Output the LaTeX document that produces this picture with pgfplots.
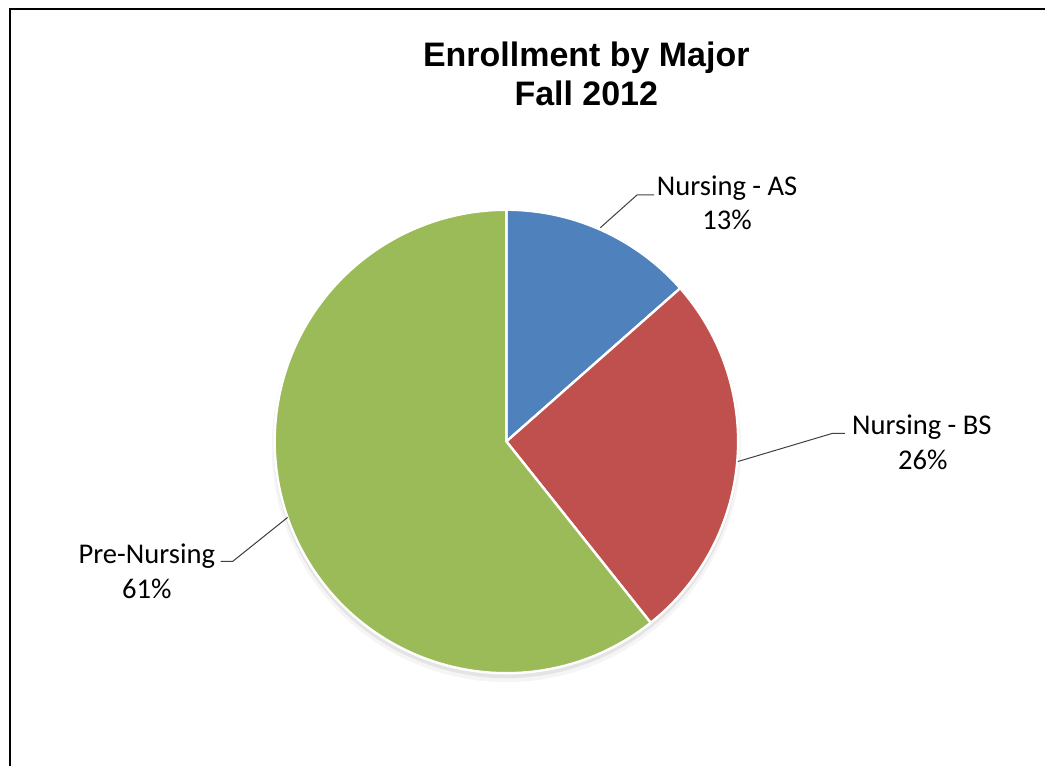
\documentclass[border=0pt]{standalone}
\usepackage{pgfplots}
\pgfplotsset{compat=1.18}
\usepackage{fontspec}
\setmainfont{Carlito}
\newfontfamily\titlefont{Liberation Sans}

\definecolor{asblue}{HTML}{4F81BD}
\definecolor{bsred}{HTML}{C0504D}
\definecolor{pregreen}{HTML}{9BBB59}

% shares in percent, clockwise from 12 o'clock
\def\shareAS{13.5}
\def\shareBS{25.8}
\def\sharePre{60.7}

\pgfmathsetmacro\angA{90-3.6*\shareAS}
\pgfmathsetmacro\angB{\angA-3.6*\shareBS}
\pgfmathsetmacro\angC{\angB-3.6*\sharePre}

\begin{document}
\begin{tikzpicture}
\begin{axis}[
    width=523pt, height=383.5pt, scale only axis,
    hide axis, clip=false,
    xmin=0, xmax=1046, ymin=0, ymax=767,
    y dir=reverse,
    samples=120,
    ]
\path (axis cs:0,0) (axis cs:1046,767);

% soft shadow under the pie
\addplot[draw=none, fill=black, fill opacity=0.04, domain=0:360] ({507+235*cos(x)},{448-235*sin(x)}) -- cycle;
\addplot[draw=none, fill=black, fill opacity=0.07, domain=0:360] ({507+233*cos(x)},{446-233*sin(x)}) -- cycle;

% slices
\addplot[fill=asblue, draw=white, line width=1.2pt, line join=round, domain=\angA:90]
    ({507+232*cos(x)},{442-232*sin(x)}) -- (axis cs:507,442) -- cycle;
\addplot[fill=bsred, draw=white, line width=1.2pt, line join=round, domain=\angB:\angA]
    ({507+232*cos(x)},{442-232*sin(x)}) -- (axis cs:507,442) -- cycle;
\addplot[fill=pregreen, draw=white, line width=1.2pt, line join=round, domain=\angC:\angB]
    ({507+232*cos(x)},{442-232*sin(x)}) -- (axis cs:507,442) -- cycle;

% leader lines
\addplot[black!75, line width=0.5pt] coordinates {(601,228) (638,195) (655,195)};
\addplot[black!75, line width=0.5pt] coordinates {(739,462) (833,434) (846,434)};
\addplot[black!75, line width=0.5pt] coordinates {(288,518) (233,562) (221,562)};

% frame
\addplot[black, line width=1.25pt, line join=miter] coordinates {(10,767) (10,9) (1046,9)};

% labels
\begin{scope}[every node/.style={anchor=base, text=black, font=\fontsize{14.3}{17}\selectfont}]
\node at (axis cs:728,196) {Nursing - AS};
\node at (axis cs:728,230) {13\%};
\node at (axis cs:923,435) {Nursing - BS};
\node at (axis cs:924,470) {26\%};
\node at (axis cs:147,564) {Pre-Nursing};
\node at (axis cs:147,599) {61\%};
\end{scope}

% title
\node[anchor=base, font=\titlefont\bfseries\fontsize{17}{20}\selectfont] at (axis cs:587,67) {Enrollment by Major};
\node[anchor=base, font=\titlefont\bfseries\fontsize{17}{20}\selectfont] at (axis cs:587,106) {Fall 2012};
\end{axis}
\end{tikzpicture}
\end{document}
